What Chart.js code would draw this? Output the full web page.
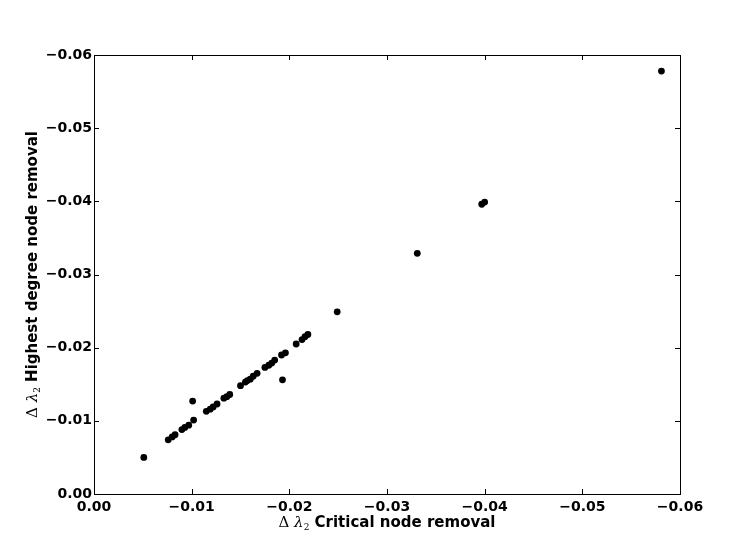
<!DOCTYPE html>
<html>
<head>
<meta charset="utf-8">
<script src="https://cdn.jsdelivr.net/npm/chart.js@4.4.1/dist/chart.umd.min.js"></script>
<style>
  html, body { margin: 0; padding: 0; background: #fff; }
  #wrap { width: 756px; height: 551px; }
</style>
</head>
<body>
<div id="wrap"><canvas id="chart" width="756" height="551"></canvas></div>
<script>
// delta lambda2 after removing the critical node (x) vs the highest degree node (y)
var criticalRemoval = [
  -0.0051, -0.0076, -0.0080, -0.0083, -0.0090, -0.0093, -0.0097, -0.0102, -0.0101,
  -0.0115, -0.0119, -0.0122, -0.0126, -0.0133, -0.0136, -0.0139, -0.0150, -0.0155,
  -0.0157, -0.0160, -0.0163, -0.0167, -0.0175, -0.0179, -0.0182, -0.0185, -0.0192,
  -0.0196, -0.0193, -0.0207, -0.0213, -0.0216, -0.0219, -0.0249, -0.0331, -0.0397,
  -0.0400, -0.0581
];
var degreeRemoval = [
  -0.0050, -0.0074, -0.0078, -0.0081, -0.0088, -0.0091, -0.0094, -0.0101, -0.0127,
  -0.0113, -0.0116, -0.0119, -0.0123, -0.0131, -0.0133, -0.0136, -0.0148, -0.0153,
  -0.0155, -0.0157, -0.0161, -0.0165, -0.0173, -0.0176, -0.0179, -0.0183, -0.0190,
  -0.0193, -0.0156, -0.0205, -0.0211, -0.0215, -0.0218, -0.0249, -0.0329, -0.0396,
  -0.0399, -0.0578
];
var axisMin = -0.06;
var axisMax = 0;
var tickStep = 0.01;
var xTitle = "Critical node removal";
var yTitle = "Highest degree node removal";

var points = [];
for (var i = 0; i < criticalRemoval.length; i++) {
  points.push({ x: criticalRemoval[i], y: degreeRemoval[i] });
}

function fmtTick(v) {
  var s = (Math.round(v * 100) / 100).toFixed(2);
  if (s == "-0.00") s = "0.00";
  return s.replace("-", "\u2212");
}

// draws the frame, inward ticks and the mixed-font axis titles
var framePlugin = {
  id: "frame",
  afterDraw: function (chart) {
    var c = chart.ctx;
    var a = chart.chartArea;
    var xs = chart.scales.x, ys = chart.scales.y;
    c.save();
    c.strokeStyle = "#000";
    c.lineWidth = 1;
    c.strokeRect(Math.round(a.left) + 0.5, Math.round(a.top) + 0.5,
                 Math.round(a.right - a.left), Math.round(a.bottom - a.top));
    c.beginPath();
    xs.ticks.forEach(function (t) {
      var px = Math.round(xs.getPixelForValue(t.value)) + 0.5;
      c.moveTo(px, a.bottom); c.lineTo(px, a.bottom - 5);
      c.moveTo(px, a.top); c.lineTo(px, a.top + 5);
    });
    ys.ticks.forEach(function (t) {
      var py = Math.round(ys.getPixelForValue(t.value)) + 0.5;
      c.moveTo(a.left, py); c.lineTo(a.left + 5, py);
      c.moveTo(a.right, py); c.lineTo(a.right - 5, py);
    });
    c.stroke();

    function drawTitle(text) {
      var sym = "\u0394 ";
      var lam = "\u03bb";
      c.font = "15px 'DejaVu Serif'";
      var w1 = c.measureText(sym).width;
      c.font = "italic 15px 'DejaVu Serif'";
      var w2 = c.measureText(lam).width;
      c.font = "9px 'DejaVu Serif'";
      var w3 = c.measureText("2").width;
      c.font = "bold 15px 'DejaVu Sans'";
      var w4 = c.measureText(" " + text).width;
      var total = w1 + w2 + w3 + w4;
      var x = -total / 2;
      c.textBaseline = "alphabetic";
      c.textAlign = "left";
      c.fillStyle = "#000";
      c.font = "15px 'DejaVu Serif'";
      c.fillText(sym, x, 0); x += w1;
      c.font = "italic 15px 'DejaVu Serif'";
      c.fillText(lam, x, 0); x += w2;
      c.font = "9px 'DejaVu Serif'";
      c.fillText("2", x, 3); x += w3;
      c.font = "bold 15px 'DejaVu Sans'";
      c.fillText(" " + text, x, 0);
    }
    c.save();
    c.translate((a.left + a.right) / 2, 527);
    drawTitle(xTitle);
    c.restore();
    c.save();
    c.translate(37, (a.top + a.bottom) / 2);
    c.rotate(-Math.PI / 2);
    drawTitle(yTitle);
    c.restore();
    c.restore();
  }
};

new Chart(document.getElementById("chart").getContext("2d"), {
  type: "scatter",
  data: {
    datasets: [{
      data: points,
      backgroundColor: "#000",
      borderColor: "#000",
      pointRadius: 3.4,
      pointHoverRadius: 3.4,
      borderWidth: 0
    }]
  },
  options: {
    responsive: false,
    animation: false,
    devicePixelRatio: 1,
    layout: { padding: { left: 0, right: 76, top: 55, bottom: 0 } },
    plugins: { legend: { display: false }, tooltip: { enabled: false } },
    scales: {
      x: {
        type: "linear",
        min: axisMin, max: axisMax, reverse: true,
        grid: { display: false, drawTicks: false, tickLength: 0 },
        border: { display: false },
        ticks: {
          stepSize: tickStep, padding: 5, color: "#000",
          font: { family: "DejaVu Sans", size: 14, weight: "bold" },
          maxRotation: 0, autoSkip: false,
          callback: function (v) { return fmtTick(v); }
        },
        afterFit: function (s) { s.height = 551 - 494; }
      },
      y: {
        type: "linear",
        min: axisMin, max: axisMax, reverse: true,
        grid: { display: false, drawTicks: false, tickLength: 0 },
        border: { display: false },
        ticks: {
          stepSize: tickStep, padding: 2, color: "#000",
          font: { family: "DejaVu Sans", size: 14, weight: "bold" },
          autoSkip: false,
          callback: function (v) { return fmtTick(v); }
        },
        afterFit: function (s) { s.width = 94; }
      }
    }
  },
  plugins: [framePlugin]
});
</script>
</body>
</html>
